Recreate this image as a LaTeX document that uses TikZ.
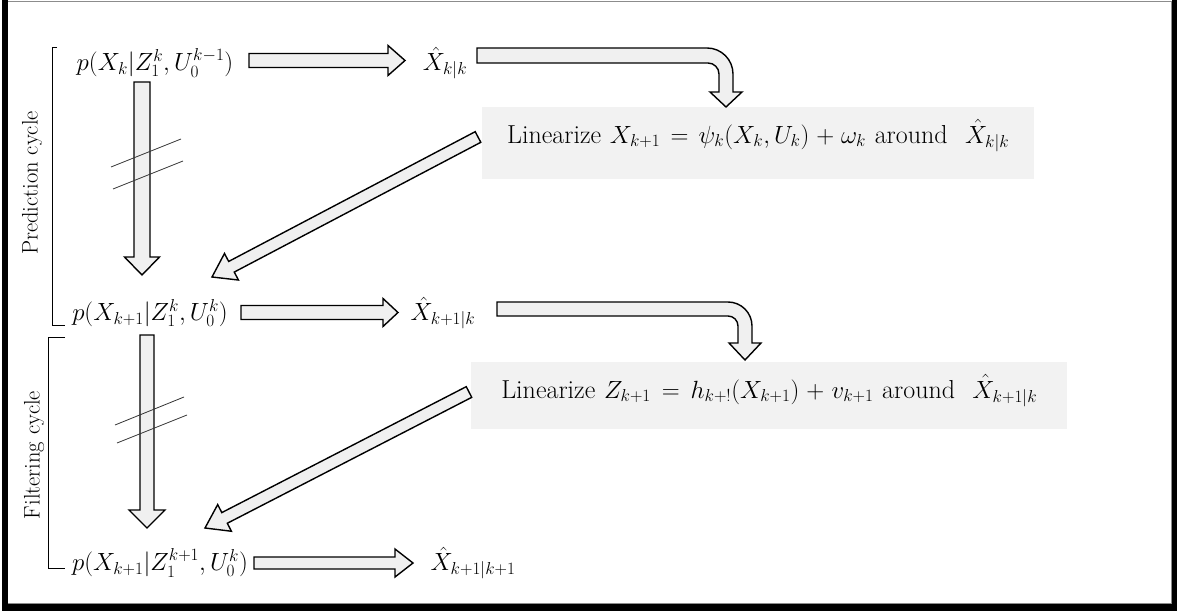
\documentclass[tikz,border=0pt]{standalone}
\usepackage{amsmath}
\usetikzlibrary{calc}
\definecolor{arrowfill}{HTML}{F0F0F0}
\definecolor{boxfill}{HTML}{F2F2F2}
\tikzset{
 blockarrow/.style={draw=black, fill=arrowfill, line width=1.4pt, line join=miter},
 mathtext/.style={font=\fontsize{25.5}{30}\selectfont, inner sep=0pt},
 linbox/.style={fill=boxfill, inner sep=0pt, align=center, font=\fontsize{26}{30}\selectfont},
 cyclelabel/.style={rotate=90, font=\fontsize{22.5}{26}\selectfont, inner sep=0pt},
 bracketline/.style={draw=black, line width=1pt},
 hashline/.style={draw=black!80, line width=0.8pt},
}
\newcommand{\blockarr}[5]{%
 \coordinate (tmph) at ($(#2)!#5!(#1)$);
 \draw[blockarrow] ($(#1)!#3!90:(#2)$) -- ($(tmph)!#3!90:(#2)$) -- ($(tmph)!#4!90:(#2)$) -- (#2) -- ($(tmph)!#4!-90:(#2)$) -- ($(tmph)!#3!-90:(#2)$) -- ($(#1)!#3!-90:(#2)$) -- cycle;}
\begin{document}
\begin{tikzpicture}[x=1pt,y=-1pt]
\useasboundingbox (0,0) rectangle (1183,612);
% frame
\draw[black!45, line width=0.8pt] (5,1) rectangle (1171,603);
\fill[black] (2,0) rectangle (8,611);
\fill[black] (1171.5,0) rectangle (1177,611);
\fill[black] (2,603.5) rectangle (1177,611);

% text nodes
\node[mathtext] (p1) at (155,63) {$p(X_k|Z_1^k,U_0^{k-1})$};
\node[mathtext] (x1) at (445,63) {$\hat{X}_{k|k}$};
\node[mathtext] (p2) at (150,313) {$p(X_{k+1}|Z_1^k,U_0^k)$};
\node[mathtext] (x2) at (443,313) {$\hat{X}_{k+1|k}$};
\node[mathtext] (p3) at (160,563) {$p(X_{k+1}|Z_1^{k+1},U_0^k)$};
\node[mathtext] (x3) at (473,563) {$\hat{X}_{k+1|k+1}$};

\node[linbox, anchor=north west, text width=552pt, text height=36pt, text depth=36pt] (box1) at (482,107)
 {Linearize $X_{k+1}=\psi_k(X_k,U_k)+\omega_k$ around\ \ $\hat{X}_{k|k}$};
\node[linbox, anchor=north west, text width=596pt, text height=36pt, text depth=31pt] (box2) at (471,362)
 {Linearize $Z_{k+1}=h_{k+!}(X_{k+1})+v_{k+1}$ around\ \ $\hat{X}_{k+1|k}$};

\node[cyclelabel] (lab1) at (32,183) {Prediction cycle};
\node[cyclelabel] (lab2) at (34,455) {Filtering cycle};

% brackets
\draw[bracketline] (57,48) -- (52,48) -- (52,325) -- (65,325);
\draw[bracketline] (65,337) -- (48,337) -- (48,568) -- (65,568);

% arrow end points
\coordinate (a1s) at (249,60.5); \coordinate (a1e) at (405,60.5);
\coordinate (a2s) at (241,312.5); \coordinate (a2e) at (398,312.5);
\coordinate (a3s) at (254,563); \coordinate (a3e) at (413,563);
\coordinate (v1s) at (142,82); \coordinate (v1e) at (142,275);
\coordinate (v2s) at (147,335); \coordinate (v2e) at (147,528);
\coordinate (d1s) at (478,137); \coordinate (d1e) at (212,277);
\coordinate (d2s) at (469,392); \coordinate (d2e) at (205,528);

\blockarr{a1s}{a1e}{7pt}{15pt}{17pt}
\blockarr{a2s}{a2e}{7pt}{14pt}{15pt}
\blockarr{a3s}{a3e}{6pt}{14pt}{18pt}
\blockarr{v1s}{v1e}{8pt}{17.5pt}{18pt}
\blockarr{v2s}{v2e}{7pt}{18pt}{18pt}
\blockarr{d1s}{d1e}{6pt}{15pt}{22pt}
\blockarr{d2s}{d2e}{6pt}{15pt}{22pt}

% bent arrows
\draw[blockarrow] (477,48) -- (707,48) arc[start angle=-90,end angle=0,radius=26] -- (733,92) -- (742,92) -- (726,107) -- (710,92) -- (719,92) -- (719,74) arc[start angle=0,end angle=-90,radius=11] -- (477,63) -- cycle;
\draw[blockarrow] (497,302) -- (728,302) arc[start angle=-90,end angle=0,radius=24] -- (752,343) -- (761,343) -- (745,360) -- (729,343) -- (738,343) -- (738,326) arc[start angle=0,end angle=-90,radius=10] -- (497,316) -- cycle;

% hash marks
\draw[hashline] (111,167) -- (181,139);
\draw[hashline] (113,189) -- (183,161);
\draw[hashline] (115,425) -- (184,397);
\draw[hashline] (117,443) -- (187,415);
\end{tikzpicture}
\end{document}
